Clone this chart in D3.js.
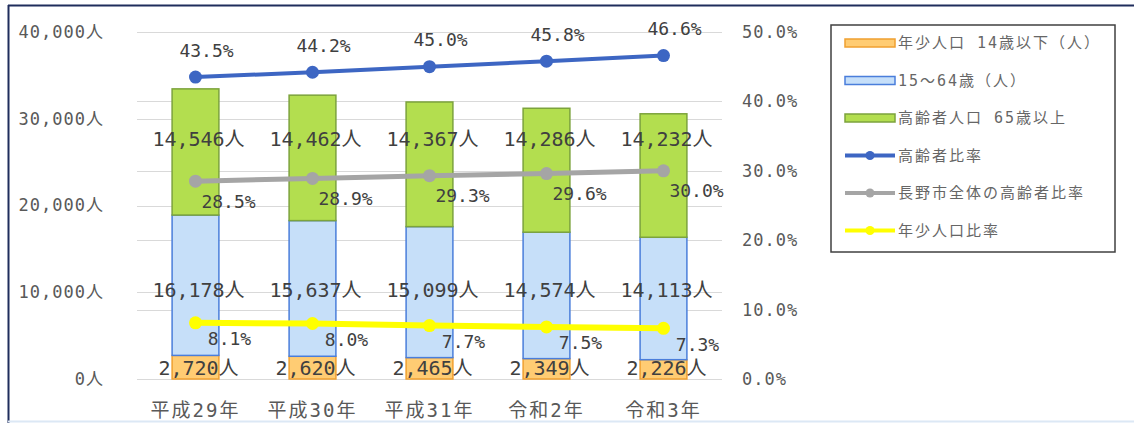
<!DOCTYPE html>
<html>
<head>
<meta charset="utf-8">
<script src="https://cdn.jsdelivr.net/npm/d3@7"></script>
<style>
  html, body { margin: 0; padding: 0; background: #fff; }
  svg text { font-family: "DejaVu Sans Mono", "Noto Sans CJK JP", monospace; }
</style>
</head>
<body>
<svg id="chart" width="1134" height="423"></svg>
<script>
// categories & values
const years = ["平成29年", "平成30年", "平成31年", "令和2年", "令和3年"];
const young = [2720, 2620, 2465, 2349, 2226];        // 年少人口 14歳以下
const working = [16178, 15637, 15099, 14574, 14113]; // 15～64歳
const elderly = [14546, 14462, 14367, 14286, 14232]; // 高齢者人口 65歳以上
const elderlyRate = [43.5, 44.2, 45.0, 45.8, 46.6];
const cityElderlyRate = [28.5, 28.9, 29.3, 29.6, 30.0];
const youngRate = [8.1, 8.0, 7.7, 7.5, 7.3];
const leftTicks = [0, 10000, 20000, 30000, 40000];
const rightTicks = [0, 10, 20, 30, 40, 50];

const plot = {left: 137, right: 722, top: 32, bottom: 379};

const svg = d3.select("#chart");

// outer frame
svg.append("line").attr("x1", 8).attr("x2", 1134).attr("y1", 5.5).attr("y2", 5.5)
    .attr("stroke", "#1f2d5c").attr("stroke-width", 2);
svg.append("line").attr("x1", 8.5).attr("x2", 8.5).attr("y1", 5).attr("y2", 423)
    .attr("stroke", "#1f2d5c").attr("stroke-width", 2);
svg.append("line").attr("x1", 8).attr("x2", 1134).attr("y1", 421.5).attr("y2", 421.5)
    .attr("stroke", "#dce8f5").attr("stroke-width", 2);

var x = d3.scaleBand().domain(years).range([plot.left, plot.right]);
var yL = d3.scaleLinear().domain([0, 40000]).range([plot.bottom, plot.top]);
var yR = d3.scaleLinear().domain([0, 50]).range([plot.bottom, plot.top]);
var barW = x.bandwidth() * 0.4;
var cx = function(d) { return x(d) + x.bandwidth() / 2; };

// gridlines (both axes)
var grid = svg.append("g").attr("class", "grid");
grid.selectAll("line.gl").data(leftTicks).enter().append("line")
    .attr("x1", plot.left).attr("x2", plot.right)
    .attr("y1", function(d) { return Math.round(yL(d)) + 0.5; })
    .attr("y2", function(d) { return Math.round(yL(d)) + 0.5; })
    .attr("stroke", "#d9d9d9");
grid.selectAll("line.gr").data(rightTicks).enter().append("line")
    .attr("x1", plot.left).attr("x2", plot.right)
    .attr("y1", function(d) { return Math.round(yR(d)) + 0.5; })
    .attr("y2", function(d) { return Math.round(yR(d)) + 0.5; })
    .attr("stroke", "#d9d9d9");

// axes
svg.append("g")
    .attr("transform", "translate(104,0)")
    .call(d3.axisLeft(yL).tickValues(leftTicks).tickSize(0).tickPadding(0)
        .tickFormat(function(d) { return d3.format(",")(d) + "人"; }))
    .call(function(g) { g.select(".domain").remove(); })
    .selectAll("text").attr("fill", "#595959").attr("font-size", 17).attr("letter-spacing", 1);

svg.append("g")
    .attr("transform", "translate(742,0)")
    .call(d3.axisRight(yR).tickValues(rightTicks).tickSize(0).tickPadding(0)
        .tickFormat(function(d) { return d3.format(".1f")(d) + "%"; }))
    .call(function(g) { g.select(".domain").remove(); })
    .selectAll("text").attr("fill", "#595959").attr("font-size", 17).attr("letter-spacing", 1);

svg.append("g")
    .attr("transform", "translate(0,410)")
    .call(d3.axisBottom(x).tickSize(0).tickPadding(0))
    .call(function(g) { g.select(".domain").remove(); })
    .selectAll("text").attr("fill", "#595959").attr("font-size", 19).attr("letter-spacing", 2)
    .attr("font-family", "Noto Sans CJK JP").attr("dy", "0.35em");

// stacked bars
var seriesKeys = ["young", "working", "elderly"];
var seriesStyle = {
    young:   {fill: "#ffcc73", stroke: "#f0a030"},
    working: {fill: "#c6dff9", stroke: "#4a7edb"},
    elderly: {fill: "#b3de4f", stroke: "#7ca33c"}
};
var rows = years.map(function(y, i) {
    return {year: y, young: young[i], working: working[i], elderly: elderly[i]};
});
var stacked = d3.stack().keys(seriesKeys)(rows);

var layers = svg.selectAll("g.layer").data(stacked).enter().append("g")
    .attr("class", "layer");
layers.selectAll("rect").data(function(d) { return d; }).enter().append("rect")
    .attr("x", function(d) { return cx(d.data.year) - barW / 2; })
    .attr("width", barW)
    .attr("y", function(d) { return yL(d[1]); })
    .attr("height", function(d) { return yL(d[0]) - yL(d[1]); })
    .attr("fill", function() { return seriesStyle[d3.select(this.parentNode).datum().key].fill; })
    .attr("stroke", function() { return seriesStyle[d3.select(this.parentNode).datum().key].stroke; })
    .attr("stroke-width", 1.5);

// bar labels (placed at fixed heights, as in the picture)
var labelAnchor = {young: 1250, working: 10300, elderly: 27700};
seriesKeys.forEach(function(k) {
    svg.append("g").selectAll("text").data(rows).enter().append("text")
        .attr("x", function(d) { return cx(d.year) + 3; })
        .attr("y", yL(labelAnchor[k]))
        .attr("dy", "0.36em")
        .attr("text-anchor", "middle")
        .attr("font-size", 20)
        .attr("fill", "#404040")
        .text(function(d) { return d3.format(",")(d[k]) + "人"; });
});

// lines
var lines = [
    {name: "年少人口比率", values: youngRate, color: "#ffff00", width: 6, dx: 34, dy: 16},
    {name: "長野市全体の高齢者比率", values: cityElderlyRate, color: "#a5a5a5", width: 5, dx: 33, dy: 20},
    {name: "高齢者比率", values: elderlyRate, color: "#3d66c3", width: 4, dx: 11, dy: -27}
];
var lineGen = d3.line()
    .x(function(d, i) { return cx(years[i]); })
    .y(function(d) { return yR(d); });

lines.forEach(function(s) {
    var g = svg.append("g");
    g.append("path").datum(s.values)
        .attr("d", lineGen)
        .attr("fill", "none")
        .attr("stroke", s.color)
        .attr("stroke-width", s.width)
        .attr("stroke-linecap", "round");
    g.selectAll("circle").data(s.values).enter().append("circle")
        .attr("cx", function(d, i) { return cx(years[i]); })
        .attr("cy", function(d) { return yR(d); })
        .attr("r", 6.5)
        .attr("fill", s.color);
    g.selectAll("text").data(s.values).enter().append("text")
        .attr("x", function(d, i) { return cx(years[i]) + s.dx; })
        .attr("y", function(d) { return yR(d) + s.dy; })
        .attr("dy", "0.36em")
        .attr("text-anchor", "middle")
        .attr("font-size", 18)
        .attr("fill", "#404040")
        .text(function(d) { return d3.format(".1f")(d) + "%"; });
});

// legend
var legend = svg.append("g").attr("transform", "translate(831,25)");
legend.append("rect").attr("width", 284).attr("height", 227)
    .attr("fill", "#fff").attr("stroke", "#404040").attr("stroke-width", 1.5);

var legendItems = [
    {label: "年少人口 14歳以下（人）", type: "bar", style: seriesStyle.young},
    {label: "15～64歳（人）", type: "bar", style: seriesStyle.working},
    {label: "高齢者人口 65歳以上", type: "bar", style: seriesStyle.elderly},
    {label: "高齢者比率", type: "line", color: lines[2].color},
    {label: "長野市全体の高齢者比率", type: "line", color: lines[1].color},
    {label: "年少人口比率", type: "line", color: lines[0].color}
];
var item = legend.selectAll("g.item").data(legendItems).enter().append("g")
    .attr("class", "item")
    .attr("transform", function(d, i) { return "translate(14," + (18 + i * 37.5) + ")"; });

item.filter(function(d) { return d.type === "bar"; }).append("rect")
    .attr("x", 0).attr("y", -4).attr("width", 50).attr("height", 8)
    .attr("fill", function(d) { return d.style.fill; })
    .attr("stroke", function(d) { return d.style.stroke; })
    .attr("stroke-width", 1.5);
var lineItems = item.filter(function(d) { return d.type === "line"; });
lineItems.append("line")
    .attr("x1", 0).attr("x2", 50).attr("y1", 0).attr("y2", 0)
    .attr("stroke", function(d) { return d.color; }).attr("stroke-width", 4);
lineItems.append("circle")
    .attr("cx", 25).attr("r", 4.5)
    .attr("fill", function(d) { return d.color; });
item.append("text")
    .attr("x", 53).attr("dy", "0.36em")
    .attr("font-size", 15)
    .attr("font-family", "Noto Sans CJK JP")
    .attr("letter-spacing", 2)
    .attr("fill", "#666")
    .text(function(d) { return d.label; });
</script>
</body>
</html>
